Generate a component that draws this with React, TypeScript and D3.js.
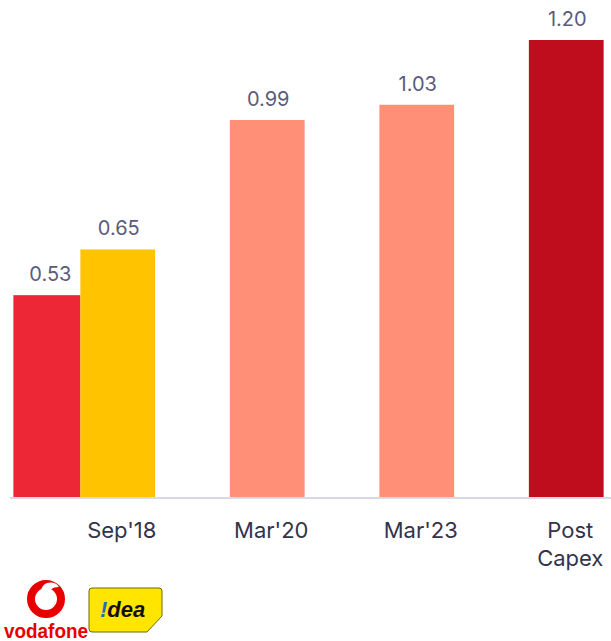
import React, { useRef, useEffect } from 'react';
import * as d3 from 'd3';

const categories = ["Sep'18", "Mar'20", "Mar'23", 'Post Capex'];
const values = [0.65, 0.99, 1.03, 1.2];
const barColors = ['#FFC300', '#FF8F77', '#FF8F77', '#C00D1E'];
// Vodafone standalone sits beside Idea in the Sep'18 group
const vodafoneValue = 0.53;
const vodafoneColor = '#EE2737';

const App = () => {
  const svgRef = useRef<SVGSVGElement>(null);

  useEffect(() => {
    const width = 611;
    const height = 641;
    const svg = d3.select(svgRef.current).attr('width', width).attr('height', height);
    svg.selectAll('*').remove();

    const baseY = 497;
    const x = d3.scaleBand().domain(categories).range([43, 641]).paddingInner(0.5).paddingOuter(0.25);
    const y = d3.scaleLinear().domain([0, 1.2]).range([baseY, baseY - 457]);
    const bw = x.bandwidth();

    const fmt = d3.format('.2f');
    const font = 'Inter, "Noto Sans", sans-serif';

    // axis baseline
    svg.append('line')
      .attr('x1', 10).attr('x2', width)
      .attr('y1', baseY + 1).attr('y2', baseY + 1)
      .attr('stroke', '#d9d9e6').attr('stroke-width', 2);

    // vodafone bar
    const vx = x(categories[0])! - 67;
    svg.append('rect')
      .attr('x', vx).attr('y', y(vodafoneValue))
      .attr('width', 67).attr('height', baseY - y(vodafoneValue))
      .attr('fill', vodafoneColor);
    svg.append('text')
      .attr('x', vx + 37).attr('y', y(vodafoneValue) - 14)
      .attr('text-anchor', 'middle')
      .attr('font-family', font).attr('font-size', 20)
      .attr('fill', '#5b5b7c')
      .text(fmt(vodafoneValue));

    svg.selectAll('.bar')
      .data(values)
      .enter()
      .append('rect')
      .attr('class', 'bar')
      .attr('x', (d, i) => x(categories[i])!)
      .attr('y', (d) => y(d))
      .attr('width', bw)
      .attr('height', (d) => baseY - y(d))
      .attr('fill', (d, i) => barColors[i]);

    svg.selectAll('.val')
      .data(values)
      .enter()
      .append('text')
      .attr('class', 'val')
      .attr('x', (d, i) => x(categories[i])! + bw / 2 + 1)
      .attr('y', (d) => y(d) - 14)
      .attr('text-anchor', 'middle')
      .attr('font-family', font).attr('font-size', 20)
      .attr('fill', '#5b5b7c')
      .text((d) => fmt(d));

    // category labels
    categories.forEach((c) => {
      const lines = c === 'Post Capex' ? ['Post', 'Capex'] : [c];
      const cx = x(c)! + bw / 2 + 4;
      const t = svg.append('text')
        .attr('x', cx)
        .attr('y', 538)
        .attr('text-anchor', 'middle')
        .attr('font-family', font).attr('font-size', 22)
        .attr('fill', '#33334d');
      lines.forEach((l, j) => {
        t.append('tspan').attr('x', cx).attr('dy', j === 0 ? 0 : 28).text(l);
      });
    });

    // vodafone logo
    const logo = svg.append('g');
    logo.append('circle').attr('cx', 46).attr('cy', 599).attr('r', 15)
      .attr('fill', 'none').attr('stroke', '#E60000').attr('stroke-width', 8);
    logo.append('path')
      .attr('d', 'M47 583 C40 586 39 594 46 597 C48 590 53 587 59 587 C56 582 51 582 47 583 Z')
      .attr('fill', '#ffffff');
    logo.append('text').attr('x', 4).attr('y', 638)
      .attr('font-family', 'Liberation Sans, Arial, sans-serif').attr('font-weight', 'bold')
      .attr('font-size', 21).attr('fill', '#E60000').attr('textLength', 84)
      .attr('lengthAdjust', 'spacingAndGlyphs')
      .text('vodafone');

    // idea logo
    const idea = svg.append('g');
    idea.append('path')
      .attr('d', 'M92 588 H159 Q162 588 162 591 V616 L147 632 H92 Q89 632 89 629 V591 Q89 588 92 588 Z')
      .attr('fill', '#FFE500').attr('stroke', '#6b6b00').attr('stroke-width', 1);
    const it = idea.append('text').attr('x', 100).attr('y', 617)
      .attr('font-family', 'Liberation Sans, Arial, sans-serif').attr('font-weight', 'bold')
      .attr('font-style', 'italic').attr('font-size', 22).attr('fill', '#111');
    it.append('tspan').attr('fill', '#1b6fb8').text('!');
    it.append('tspan').text('dea');
  }, []);

  return (
    <svg ref={svgRef} style={{ position: 'absolute', left: 0, top: 0 }}></svg>
  );
};

export default App;
